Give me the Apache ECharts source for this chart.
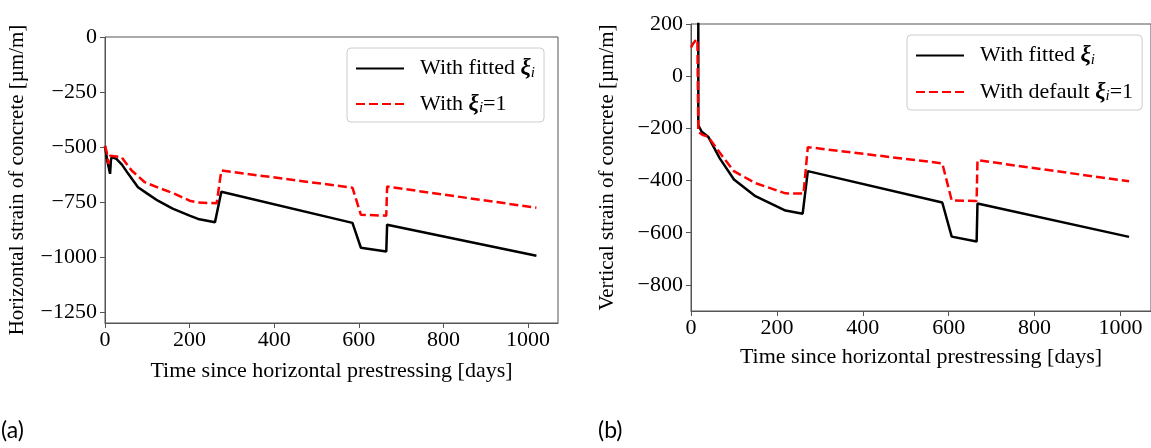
<!DOCTYPE html>
<html>
<head>
<meta charset="utf-8">
<script src="https://cdn.jsdelivr.net/npm/echarts@6/dist/echarts.min.js"></script>
<style>
html,body{margin:0;padding:0;background:#fff;}
#c{width:1151px;height:448px;}
</style>
</head>
<body>
<div id="c"></div>
<script>
// ---- data (days, µm/m) ----
const xTicks = [0, 200, 400, 600, 800, 1000];
const hYTicks = [0, -250, -500, -750, -1000, -1250];
const vYTicks = [200, 0, -200, -400, -600, -800];

// (a) horizontal strain, fitted xi
const hFitT = [0, 5, 12, 14, 16, 27, 40, 55, 78, 100, 125, 160, 200, 220, 260, 263, 275, 585, 605, 665, 667, 1020];
const hFitV = [-495, -560, -622, -560, -546, -554, -580, -622, -683, -712, -744, -780, -812, -827, -842, -845, -703, -845, -958, -975, -853, -994];
// (a) horizontal strain, xi = 1
const hDefT = [0, 4, 8, 12, 16, 39, 63, 94, 133, 165, 200, 220, 264, 275, 585, 605, 665, 667, 1020];
const hDefV = [-495, -523, -577, -540, -531, -546, -607, -660, -690, -713, -744, -752, -756, -607, -685, -808, -812, -680, -776];

// (b) vertical strain, fitted xi
const vFitT = [17, 17, 25, 40, 67, 100, 150, 220, 260, 263, 272, 585, 607, 665, 667, 1020];
const vFitV = [1000, -188, -213, -232, -315, -396, -460, -515, -527, -530, -364, -484, -615, -634, -488, -616];
// (b) vertical strain, default xi = 1
const vDefT = [0, 5, 13, 15, 17, 28, 40, 74, 100, 150, 220, 262, 272, 585, 607, 665, 667, 1020];
const vDefV = [110, 125, 142, 130, -213, -226, -232, -309, -364, -410, -449, -450, -272, -334, -476, -478, -322, -403];

const zip = (t, v) => t.map((x, i) => [x, v[i]]);

const serif = 'Liberation Serif';
const axisCol = '#555';
const minus = v => String(v).replace('-', '\u2212');

function xAxisDef(gi) {
  return {
    gridIndex: gi, type: 'value', min: 0, max: 1071,
    name: 'Time since horizontal prestressing [days]',
    nameLocation: 'middle', nameGap: gi === 0 ? 37 : 35,
    nameTextStyle: {fontFamily: serif, fontSize: 22, color: '#000'},
    axisLine: {show: true, onZero: false, lineStyle: {color: axisCol, width: 1}},
    axisTick: {show: true, length: 5, customValues: xTicks, lineStyle: {color: axisCol}},
    axisLabel: {customValues: xTicks, fontFamily: serif, fontSize: 22, color: '#000', margin: 6, formatter: minus},
    splitLine: {show: false}
  };
}
function yAxisDef(gi, min, max, ticks, name, gap) {
  return {
    gridIndex: gi, type: 'value', min: min, max: max,
    name: name, nameLocation: 'middle', nameGap: gap,
    nameTextStyle: {fontFamily: serif, fontSize: 21, color: '#000'},
    axisLine: {show: true, onZero: false, lineStyle: {color: axisCol, width: 1}},
    axisTick: {show: true, length: 5, customValues: ticks, lineStyle: {color: axisCol}},
    axisLabel: {customValues: ticks, fontFamily: serif, fontSize: 22, color: '#000', margin: 8, formatter: minus},
    splitLine: {show: false}
  };
}

const rich = {
  n: {fontFamily: serif, fontSize: 22, color: '#000', lineHeight: 24},
  x: {fontFamily: serif, fontStyle: 'italic', fontWeight: 'bold', fontSize: 23, color: '#000', lineHeight: 24},
  s: {fontFamily: serif, fontStyle: 'italic', fontSize: 15, color: '#000', lineHeight: 24, verticalAlign: 'bottom', padding: [8, 0, 0, 0]}
};
const labels = {
  'hFit': '{n|With fitted }{x|ξ}{s|i}',
  'hDef': '{n|With }{x|ξ}{s|i}{n|=1}',
  'vFit': '{n|With fitted }{x|ξ}{s|i}',
  'vDef': '{n|With default }{x|ξ}{s|i}{n|=1}'
};
function legendDef(left, top, names, gap) {
  return {
    orient: 'vertical', left: left, top: top, data: names,
    itemWidth: 48, itemHeight: 14, itemGap: gap,
    padding: [9, 9, 6, 8],
    borderColor: '#ccc', borderWidth: 1, borderRadius: 4, backgroundColor: '#fff',
    itemStyle: {opacity: 0},
    formatter: n => labels[n],
    textStyle: {padding: [0, 0, 0, 11], rich: rich},
    selectedMode: false
  };
}

const blackLine = {color: '#000', width: 2.5};
const redLine = {color: '#ff0000', width: 2.5, type: [9, 4]};

const chart = echarts.init(document.getElementById('c'), null, {renderer: 'canvas'});
chart.setOption({
  backgroundColor: '#fff',
  animation: false,
  grid: [
    {left: 105, top: 37, width: 453, height: 286, show: true, borderColor: axisCol, borderWidth: 1, backgroundColor: 'transparent'},
    {left: 691, top: 24, width: 465, height: 287, show: true, borderColor: axisCol, borderWidth: 1, backgroundColor: 'transparent'}
  ],
  xAxis: [xAxisDef(0), xAxisDef(1)],
  yAxis: [
    yAxisDef(0, -1300, 0, hYTicks, 'Horizontal strain of concrete [µm/m]', 77),
    yAxisDef(1, -900, 200, vYTicks, 'Vertical strain of concrete [µm/m]', 73)
  ],
  legend: [
    legendDef(347, 48, ['hFit', 'hDef'], 12),
    legendDef(907, 35, ['vFit', 'vDef'], 13)
  ],
  series: [
    {name: 'hFit', type: 'line', xAxisIndex: 0, yAxisIndex: 0, data: zip(hFitT, hFitV), symbol: 'none', lineStyle: blackLine, itemStyle: {color: '#000'}, z: 3},
    {name: 'hDef', type: 'line', xAxisIndex: 0, yAxisIndex: 0, data: zip(hDefT, hDefV), symbol: 'none', lineStyle: redLine, itemStyle: {color: '#ff0000'}, z: 4},
    {name: 'vFit', type: 'line', xAxisIndex: 1, yAxisIndex: 1, data: zip(vFitT, vFitV), symbol: 'none', lineStyle: blackLine, itemStyle: {color: '#000'}, z: 3},
    {name: 'vDef', type: 'line', xAxisIndex: 1, yAxisIndex: 1, data: zip(vDefT, vDefV), symbol: 'none', lineStyle: redLine, itemStyle: {color: '#ff0000'}, z: 4}
  ],
  graphic: [
    {type: 'text', left: 1, top: 419, style: {text: '(a)', font: '23px Lato', fill: '#000'}},
    {type: 'text', left: 598, top: 419, style: {text: '(b)', font: '23px Lato', fill: '#000'}}
  ]
});
</script>
</body>
</html>
